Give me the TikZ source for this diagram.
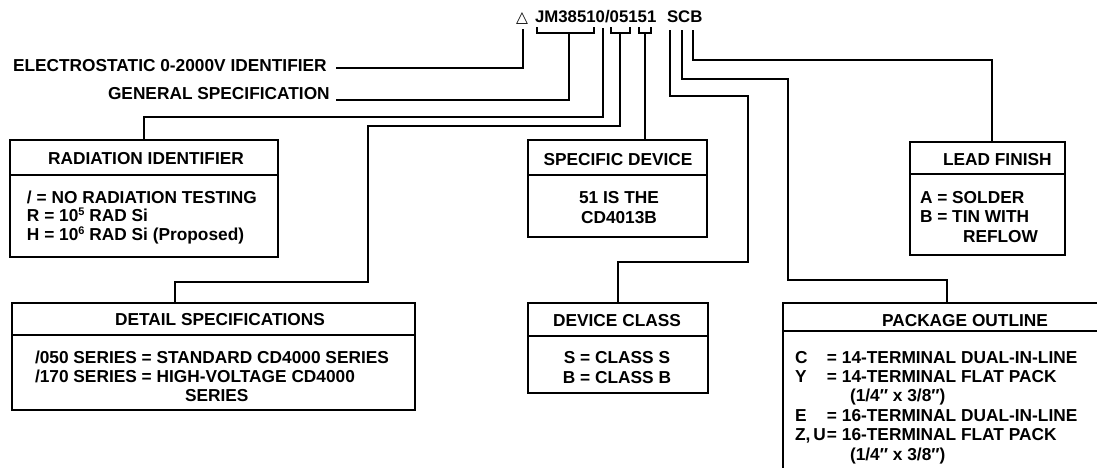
\documentclass[tikz,border=0pt]{standalone}
\usepackage{fontspec}
\setmainfont{Liberation Sans}
\newfontfamily\symfont{DejaVu Sans}
\newcommand{\supnum}[1]{\raisebox{0.32em}{\fontsize{11}{11}\selectfont #1}}
\begin{document}
\begin{tikzpicture}[x=1pt,y=-1pt,
  every node/.style={inner sep=0pt, outer sep=0pt, font=\fontsize{17.3}{19.5}\selectfont\bfseries},
  conn/.style={line width=1.3pt},
  boxline/.style={line width=1.6pt},
  box/.style={draw, boxline, anchor=north west},
  txt/.style={anchor=base west, align=left},
  ctxt/.style={anchor=base, align=center}]
\useasboundingbox (0,0) rectangle (1097,467);
\fill[white] (0,0) rectangle (1097,467);
\clip (0,0) rectangle (1097,467);

% ---- code line ----
\node[txt] (tri) at (516,22) {\symfont\fontsize{15.5}{15}\selectfont △};
\node[txt, font=\fontsize{16.8}{19}\selectfont\bfseries] (code) at (535,22) {JM38510/05151};
\node[txt, font=\fontsize{16.8}{19}\selectfont\bfseries] (scb) at (667,22) {SCB};

% ---- brackets and stems ----
\draw[conn] (537,27) -- (537,33) -- (594,33) -- (594,27);
\draw[conn] (611,27) -- (611,33) -- (630,33) -- (630,27);
\draw[conn] (639,27) -- (639,33) -- (651,33) -- (651,27);
\coordinate (stE)  at (523,29);
\coordinate (stJM) at (569,33);
\coordinate (stSl) at (603,28);
\coordinate (stD)  at (620,33);
\coordinate (stDv) at (645,33);
\coordinate (stS)  at (670,30);
\coordinate (stC)  at (682,30);
\coordinate (stB)  at (693,30);

% ---- side labels ----
\node[txt] (elec) at (13,71) {ELECTROSTATIC 0-2000V IDENTIFIER};
\node[txt] (gen) at (108,99) {GENERAL SPECIFICATION};
\coordinate (elecEnd) at (336,68);
\coordinate (genEnd) at (336,100);

% ---- boxes ----
\node[box, minimum width=268pt, minimum height=117pt] (rad) at (10,140) {};
\draw[boxline] (10,175) -- (278,175);
\node[ctxt] (radh) at (146,164) {RADIATION IDENTIFIER};
\node[txt, font=\fontsize{17.3}{18.5}\selectfont\bfseries] (radb) at (27,240)
  {/ = NO RADIATION TESTING\\R = 10\supnum{5} RAD Si\\H = 10\supnum{6} RAD Si (Proposed)};

\node[box, minimum width=403pt, minimum height=107pt] (det) at (12,303) {};
\draw[boxline] (12,335) -- (415,335);
\node[ctxt] (deth) at (220,325) {DETAIL SPECIFICATIONS};
\node[txt, font=\fontsize{17.3}{19}\selectfont\bfseries] (detb) at (35,401)
  {/050 SERIES = STANDARD CD4000 SERIES\\/170 SERIES = HIGH-VOLTAGE CD4000\\\hspace*{150pt}SERIES};
\coordinate (detIn) at (175,303);

\node[box, minimum width=179pt, minimum height=97pt] (spec) at (528,140) {};
\draw[boxline] (528,175) -- (707,175);
\node[ctxt] (spech) at (618,165) {SPECIFIC DEVICE};
\node[ctxt] (specb) at (619,223) {51 IS THE\\CD4013B};
\coordinate (specIn) at (645,140);

\node[box, minimum width=180pt, minimum height=90pt] (cls) at (528,303) {};
\draw[boxline] (528,336) -- (708,336);
\node[ctxt] (clsh) at (617,326) {DEVICE CLASS};
\node[ctxt] (clsb) at (617,383) {S = CLASS S\\B = CLASS B};

\node[box, minimum width=155pt, minimum height=113pt] (lead) at (910,142) {};
\draw[boxline] (910,174) -- (1065,174);
\node[txt] (leadh) at (943,165) {LEAD FINISH};
\node[txt] (leadb) at (920,242) {A = SOLDER\\B = TIN WITH\\\hspace*{43pt}REFLOW};
\coordinate (leadIn) at (992,142);

\node[box, minimum width=340pt, minimum height=200pt] (pkg) at (783,303) {};
\draw[boxline] (783,331) -- (1120,331);
\node[txt] (pkgh) at (882,326) {PACKAGE OUTLINE};
\node[txt, font=\fontsize{17.3}{19.4}\selectfont\bfseries] (pkgb) at (795,460)
  {\makebox[32pt][l]{C}= 14-TERMINAL DUAL-IN-LINE\\
   \makebox[32pt][l]{Y}= 14-TERMINAL FLAT PACK\\
   \hspace*{55pt}(1/4″ x 3/8″)\\
   \makebox[32pt][l]{E}= 16-TERMINAL DUAL-IN-LINE\\
   \makebox[32pt][l]{Z,\,U}= 16-TERMINAL FLAT PACK\\
   \hspace*{55pt}(1/4″ x 3/8″)};
\coordinate (pkgIn) at (947,303);

% ---- connectors ----
\draw[conn] (stE) |- (elecEnd);
\draw[conn] (stJM) |- (genEnd);
\draw[conn] (stSl) |- ([yshift=23pt]rad.north) -- (rad.north);
\draw[conn] (stD) |- (368,126) |- ([yshift=21pt]detIn) -- (detIn);
\draw[conn] (stDv) -- (specIn);
\draw[conn] (stS) |- (748,96) |- ([yshift=41pt]cls.north) -- (cls.north);
\draw[conn] (stC) |- (788,79) |- ([yshift=23pt]pkgIn) -- (pkgIn);
\draw[conn] (stB) |- ([yshift=82pt]leadIn) -- (leadIn);
\end{tikzpicture}
\end{document}
